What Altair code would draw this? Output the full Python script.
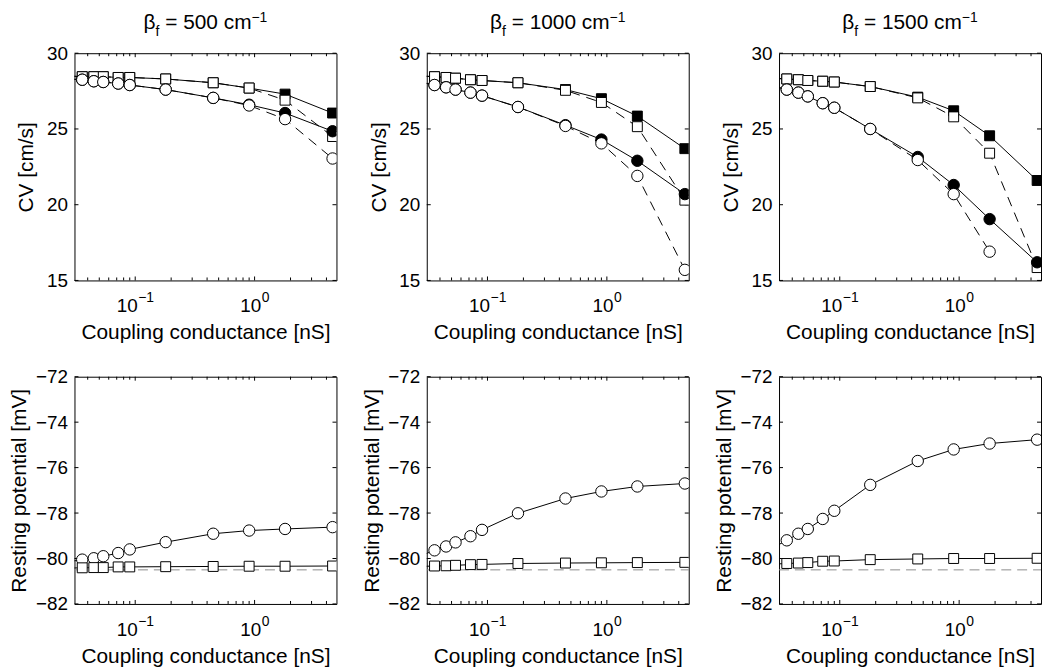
import altair as alt
import pandas as pd

# ---------------- data ----------------
COUPLING_NS = [0.027, 0.036, 0.045, 0.054, 0.072, 0.09, 0.18, 0.45, 0.9, 1.8, 4.5]
BETAS = [500, 1000, 1500]

CV_500_SQ_SOLID = [28.5, 28.45, 28.45, 28.45, 28.4, 28.4, 28.3, 28.05, 27.7, 27.3, 26.05]
CV_500_SQ_DASH = [28.5, 28.45, 28.45, 28.45, 28.4, 28.4, 28.3, 28.05, 27.7, 26.9, 24.5]
CV_500_CI_SOLID = [28.3, 28.25, 28.15, 28.1, 28.0, 27.9, 27.6, 27.05, 26.6, 26.05, 24.85]
CV_500_CI_DASH = [28.3, 28.25, 28.15, 28.1, 28.0, 27.9, 27.6, 27.05, 26.55, 25.65, 23.05]

CV_1000_SQ_SOLID = [28.5, 28.45, 28.4, 28.35, 28.25, 28.2, 28.05, 27.6, 27.0, 25.85, 23.7]
CV_1000_SQ_DASH = [28.5, 28.45, 28.4, 28.35, 28.25, 28.2, 28.05, 27.55, 26.75, 25.15, 20.3]
CV_1000_CI_SOLID = [28.1, 27.9, 27.75, 27.6, 27.4, 27.2, 26.45, 25.25, 24.3, 22.9, 20.7]
CV_1000_CI_DASH = [28.1, 27.9, 27.75, 27.6, 27.4, 27.2, 26.45, 25.2, 24.05, 21.9, 15.7]

CV_1500_SQ_SOLID = [28.35, 28.3, 28.25, 28.2, 28.15, 28.1, 27.8, 27.1, 26.2, 24.55, 21.6]
CV_1500_SQ_DASH = [28.35, 28.3, 28.25, 28.2, 28.15, 28.1, 27.8, 27.05, 25.8, 23.4, 15.85]
CV_1500_CI_SOLID = [27.85, 27.6, 27.4, 27.15, 26.7, 26.4, 25.0, 23.15, 21.3, 19.05, 16.2]
CV_1500_CI_DASH = [27.85, 27.6, 27.4, 27.15, 26.7, 26.4, 25.0, 22.95, 20.7, 16.9, None]

VR_500_CI = [-80.15, -80.05, -79.99, -79.9, -79.76, -79.6, -79.28, -78.91, -78.77, -78.7, -78.62]
VR_500_SQ = [-80.42, -80.41, -80.4, -80.4, -80.37, -80.37, -80.36, -80.35, -80.34, -80.34, -80.33]
VR_1000_CI = [-79.9, -79.64, -79.47, -79.29, -79.02, -78.74, -78.01, -77.36, -77.05, -76.83, -76.70]
VR_1000_SQ = [-80.35, -80.33, -80.32, -80.30, -80.27, -80.26, -80.22, -80.2, -80.19, -80.18, -80.17]
VR_1500_CI = [-79.55, -79.2, -78.91, -78.7, -78.26, -77.9, -76.76, -75.71, -75.2, -74.94, -74.77]
VR_1500_SQ = [-80.25, -80.22, -80.2, -80.18, -80.12, -80.11, -80.05, -80.02, -80.0, -80.0, -79.99]
VR_REF = [-80.5]

X_MAJOR = [0.1, 1]
X_MAJOR_EXP = ["\u22121", "0"]
X_MINOR = [0.04, 0.05, 0.06, 0.07, 0.08, 0.09, 0.2, 0.3, 0.4, 0.5, 0.6, 0.7, 0.8, 0.9, 2, 3, 4]
CV_TICKS = [15, 20, 25, 30]
VR_TICKS = [-82, -80, -78, -76, -74, -72]

# ---------------- styling ----------------
FONT = "Liberation Sans"
W, H = 264, 229
XDOM = [0.031, 4.85]
TICK_F = 19
SUP_F = 14
LAB_F = 21

xscale = alt.Scale(type="log", domain=XDOM, nice=False)

xaxis = alt.Axis(
    values=X_MAJOR, labels=False,
    ticks=False, tickSize=0, domain=False, grid=False,
    title="Coupling conductance [nS]", titleFont=FONT, titleFontSize=LAB_F,
    titleFontWeight="normal", titleColor="black",
    titleX=W / 2, titleY=59, titleBaseline="alphabetic", titleAlign="center",
)


def make_yaxis(values, title, tx):
    return alt.Axis(
        values=values, ticks=False, tickSize=0, domain=False, grid=False,
        labelFont=FONT, labelFontSize=TICK_F, labelColor="black", labelPadding=7,
        labelFlush=False, labelOverlap=False,
        title=title, titleFont=FONT, titleFontSize=LAB_F, titleFontWeight="normal",
        titleColor="black", titleX=tx, titleY=H / 2, titleBaseline="middle",
        titleAlign="center", titleAngle=270,
    )


def panel(series, ydom, yticks, ytitle, ytx, beta, ref=None, show_title=True):
    yscale = alt.Scale(domain=ydom, nice=False, zero=False)
    yaxis = make_yaxis(yticks, ytitle, ytx)
    X = alt.X("g:Q", scale=xscale, axis=xaxis)
    Y = alt.Y("v:Q", scale=yscale, axis=yaxis)
    layers = []

    # inward tick marks (top, bottom, left, right)
    xt_major = pd.DataFrame({"g": X_MAJOR})
    xt_minor = pd.DataFrame({"g": X_MINOR})
    for df, ln in ((xt_major, 4), (xt_minor, 3)):
        layers.append(alt.Chart(df).mark_rule(color="black", strokeWidth=1).encode(
            x=X, y=alt.value(0), y2=alt.value(ln)))
        layers.append(alt.Chart(df).mark_rule(color="black", strokeWidth=1).encode(
            x=X, y=alt.value(H - ln), y2=alt.value(H)))
    yt = pd.DataFrame({"v": yticks})
    layers.append(alt.Chart(yt).mark_rule(color="black", strokeWidth=1).encode(
        y=Y, x=alt.value(0), x2=alt.value(4)))
    layers.append(alt.Chart(yt).mark_rule(color="black", strokeWidth=1).encode(
        y=Y, x=alt.value(W - 4), x2=alt.value(W)))

    # x tick labels: "10" with a raised exponent
    for g, ex in zip(X_MAJOR, X_MAJOR_EXP):
        w_sup = (0.584 + 0.556 if ex.startswith("\u2212") else 0.556) * SUP_F
        w_ten = 2 * 0.556 * TICK_F
        shift = (w_ten + w_sup) / 2 - w_sup  # right edge of "10" relative to tick
        dfl = pd.DataFrame({"g": [g], "t": ["10"], "e": [ex]})
        layers.append(alt.Chart(dfl).mark_text(
            align="right", baseline="alphabetic", font=FONT, fontSize=TICK_F,
            color="black", dx=shift).encode(x=X, y=alt.value(H + 32), text="t:N"))
        layers.append(alt.Chart(dfl).mark_text(
            align="left", baseline="alphabetic", font=FONT, fontSize=SUP_F,
            color="black", dx=shift + 0.5).encode(x=X, y=alt.value(H + 22), text="e:N"))

    if ref is not None:
        layers.append(alt.Chart(pd.DataFrame({"v": ref})).mark_rule(
            color="#8c8c8c", strokeWidth=1, strokeDash=[10, 6]).encode(
            y=Y, x=alt.value(0), x2=alt.value(W)))

    for vals, shape, filled, dashed in series:
        df = pd.DataFrame({"g": COUPLING_NS, "v": vals}).dropna()
        lkw = dict(color="black", strokeWidth=1, clip=True)
        if dashed:
            lkw["strokeDash"] = [10, 7]
        layers.append(alt.Chart(df).mark_line(**lkw).encode(x=X, y=Y))
        layers.append(alt.Chart(df).mark_point(
            shape=shape, size=132 if shape == "circle" else 100, filled=True,
            fill="black" if filled else "white", stroke="black", strokeWidth=1,
            opacity=1, clip=True).encode(x=X, y=Y))

    if show_title:
        F, S = 21, 14
        w_beta = 0.575 * F
        w_f = 0.278 * S
        w_sp = 0.278 * F
        main = f"= {beta} cm"
        w_main = (0.584 + 0.278 + 0.556 * len(str(beta)) + 0.278 + 0.5 + 0.833) * F
        w_sup = (0.584 + 0.556) * S
        total = w_beta + w_f + w_sp + w_main + w_sup
        x0 = W / 2 - total / 2
        pieces = [
            ("\u03b2", F, x0, -24),
            ("f", S, x0 + w_beta, -17),
            (main, F, x0 + w_beta + w_f + w_sp, -24),
            ("\u22121", S, x0 + w_beta + w_f + w_sp + w_main, -31),
        ]
        for txt, fs, px, py in pieces:
            layers.append(alt.Chart(pd.DataFrame({"t": [txt]})).mark_text(
                align="left", baseline="alphabetic", font=FONT, fontSize=fs,
                color="black").encode(text="t:N", x=alt.value(px), y=alt.value(py)))

    return alt.layer(*layers).properties(width=W, height=H)


top_sets = [
    (CV_500_SQ_SOLID, CV_500_SQ_DASH, CV_500_CI_SOLID, CV_500_CI_DASH),
    (CV_1000_SQ_SOLID, CV_1000_SQ_DASH, CV_1000_CI_SOLID, CV_1000_CI_DASH),
    (CV_1500_SQ_SOLID, CV_1500_SQ_DASH, CV_1500_CI_SOLID, CV_1500_CI_DASH),
]
bot_sets = [
    (VR_500_CI, VR_500_SQ),
    (VR_1000_CI, VR_1000_SQ),
    (VR_1500_CI, VR_1500_SQ),
]

panels = []
for beta, (sqs, sqd, cis, cid) in zip(BETAS, top_sets):
    series = [
        (sqs, "square", True, False),
        (sqd, "square", False, True),
        (cis, "circle", True, False),
        (cid, "circle", False, True),
    ]
    panels.append(panel(series, [15, 30], CV_TICKS, "CV [cm/s]", -48, beta))
for beta, (ci, sq) in zip(BETAS, bot_sets):
    series = [
        (ci, "circle", False, False),
        (sq, "square", False, False),
    ]
    panels.append(panel(series, [-82, -72], VR_TICKS, "Resting potential [mV]", -55,
                        beta, ref=VR_REF, show_title=False))

chart = alt.concat(
    *panels, columns=3, spacing={"row": 97, "column": 91}, bounds="flush"
).properties(padding=0, background="white").configure_view(
    stroke="black", strokeWidth=1, fill="white"
)

chart.save("out.html", embed_options={"renderer": "svg", "actions": False})
